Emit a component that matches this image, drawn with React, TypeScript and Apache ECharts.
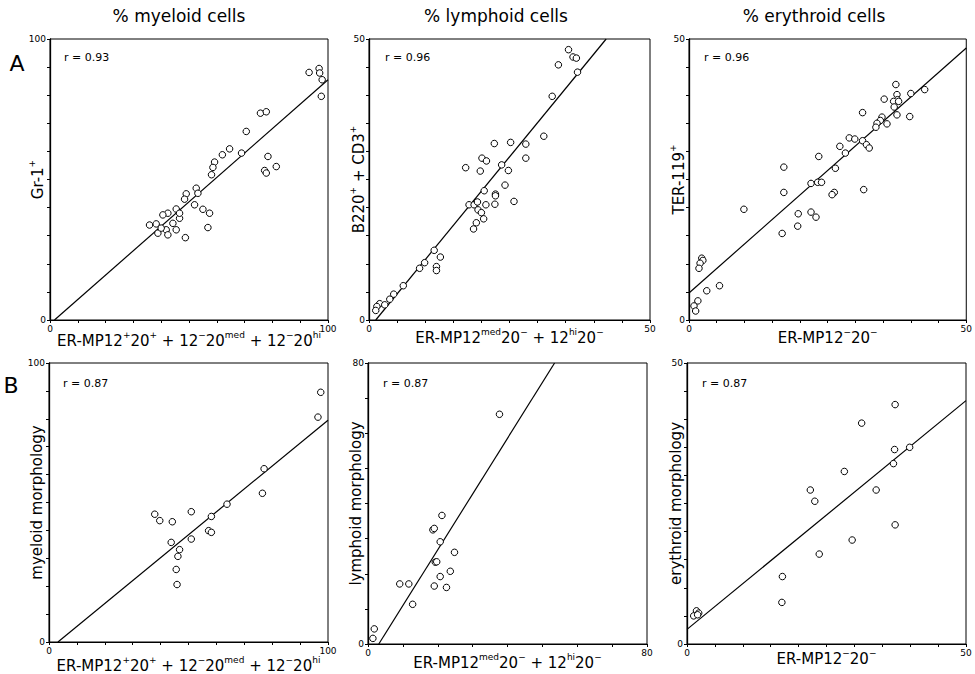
import React, { useEffect, useRef } from "react";
import * as echarts from "echarts";

type Pt = [number, number];

const FONT = "DejaVu Sans";

const panelTitles = ["% myeloid cells", "% lymphoid cells", "% erythroid cells"];
const rowLetters = ["A", "B"];
const rValues = ["r = 0.93", "r = 0.96", "r = 0.96", "r = 0.87", "r = 0.87", "r = 0.87"];
const axisMax = [100, 50, 50, 100, 80, 50];
const tickStep = [10, 5, 5, 10, 10, 5];

const xNames = [
  "{n|ER-MP12}{s|+}{n|20}{s|+}{n| + 12}{s|−}{n|20}{s|med}{n| + 12}{s|−}{n|20}{s|hi}",
  "{n|ER-MP12}{s|med}{n|20}{s|−}{n| + 12}{s|hi}{n|20}{s|−}",
  "{n|ER-MP12}{s|−}{n|20}{s|−}",
  "{n|ER-MP12}{s|+}{n|20}{s|+}{n| + 12}{s|−}{n|20}{s|med}{n| + 12}{s|−}{n|20}{s|hi}",
  "{n|ER-MP12}{s|med}{n|20}{s|−}{n| + 12}{s|hi}{n|20}{s|−}",
  "{n|ER-MP12}{s|−}{n|20}{s|−}",
];
const yNames = [
  "{n|Gr-1}{s|+}",
  "{n|B220}{s|+}{n| + CD3}{s|+}",
  "{n|TER-119}{s|+}",
  "{n|myeloid morphology}",
  "{n|lymphoid morphology}",
  "{n|erythroid morphology}",
];

// Panel A: FACS-sorted fraction vs marker
const myeloidFacs: Pt[] = [
  [93.2, 88.1], [96.8, 89.5], [97.0, 87.9], [97.9, 85.5], [97.6, 79.6],
  [75.7, 73.6], [77.8, 74.1], [70.6, 67.1], [64.6, 60.9], [62.0, 58.8],
  [59.2, 56.2], [58.6, 54.3], [58.1, 51.7], [68.9, 59.4], [78.4, 58.2],
  [77.2, 53.2], [77.8, 52.3], [81.4, 54.6], [49.0, 44.9], [48.4, 43.0],
  [52.6, 46.9], [53.2, 45.1], [52.0, 41.0], [55.0, 39.4], [57.4, 38.0],
  [56.8, 32.9], [48.7, 29.3], [46.6, 36.2], [45.4, 39.5], [42.4, 38.0],
  [40.6, 37.4], [44.2, 34.4], [41.8, 32.1], [42.4, 30.3], [38.8, 30.9],
  [35.8, 33.8], [38.2, 34.2], [40.0, 32.7], [45.4, 32.1], [46.6, 38.0],
];
const lymphoidFacs: Pt[] = [
  [35.5, 48.1], [36.3, 46.8], [36.9, 46.6], [33.7, 45.4], [37.1, 44.1],
  [32.6, 39.8], [31.1, 32.7], [27.9, 31.3], [27.9, 28.8], [25.2, 31.6],
  [22.3, 31.4], [20.1, 28.8], [20.9, 28.3], [23.6, 27.6], [24.8, 26.6],
  [17.2, 27.1], [19.8, 26.5], [24.2, 24.0], [20.5, 23.0], [22.5, 22.4],
  [22.5, 22.1], [22.4, 20.6], [25.8, 21.1], [17.8, 20.5], [18.7, 20.5],
  [19.3, 21.0], [19.4, 19.6], [20.0, 19.1], [20.8, 20.5], [20.4, 18.0],
  [19.1, 17.3], [18.6, 16.2], [11.6, 12.4], [12.7, 11.2], [9.9, 10.2],
  [9.0, 9.2], [12.0, 9.5], [12.0, 8.8], [6.1, 6.1], [4.4, 4.6],
  [3.7, 3.7], [1.9, 2.9], [1.4, 2.4], [1.2, 1.7], [2.8, 2.7],
];
const erythroidFacs: Pt[] = [
  [37.3, 41.9], [37.5, 40.1], [37.6, 39.2], [40.0, 40.3], [42.5, 41.0],
  [35.2, 39.3], [36.9, 38.9], [37.8, 38.9], [37.0, 37.9], [37.5, 36.5],
  [39.8, 36.2], [31.3, 36.9], [34.8, 36.1], [34.5, 35.5], [35.7, 34.9],
  [33.9, 35.0], [33.7, 34.3], [28.9, 32.4], [29.9, 32.2], [31.3, 31.9],
  [32.0, 31.2], [32.5, 30.6], [27.2, 30.9], [28.2, 29.7], [23.4, 29.1],
  [26.4, 27.0], [17.1, 27.2], [22.0, 24.3], [23.2, 24.5], [23.9, 24.5],
  [31.5, 23.2], [26.2, 22.7], [25.8, 22.3], [17.1, 22.7], [9.9, 19.7],
  [19.7, 18.9], [22.0, 19.2], [22.9, 18.3], [19.6, 16.7], [16.8, 15.4],
  [2.3, 11.0], [2.5, 10.6], [2.0, 10.1], [1.8, 9.2], [5.5, 6.1],
  [3.2, 5.2], [1.6, 3.4], [0.9, 2.5], [1.2, 1.6],
];

// Panel B: FACS-sorted fraction vs morphology
const myeloidMorph: Pt[] = [
  [97.4, 89.5], [96.4, 80.6], [77.1, 62.1], [76.5, 53.3], [63.8, 49.4],
  [58.2, 45.0], [57.2, 39.9], [58.2, 39.3], [51.0, 46.7], [51.0, 36.9],
  [37.9, 45.8], [39.7, 43.5], [44.2, 43.1], [43.8, 35.7], [46.8, 33.1],
  [46.2, 30.7], [45.6, 26.0], [45.9, 20.6],
];
const lymphoidMorph: Pt[] = [
  [37.7, 65.4], [21.2, 36.6], [18.6, 32.5], [19.0, 32.9], [20.7, 29.1],
  [24.8, 26.1], [19.3, 23.3], [19.7, 23.4], [23.6, 20.7], [20.7, 19.2],
  [19.0, 16.5], [22.5, 16.1], [9.1, 17.1], [11.7, 17.1], [12.8, 11.3],
  [1.8, 4.3], [1.4, 1.6],
];
const erythroidMorph: Pt[] = [
  [37.3, 42.6], [31.3, 39.3], [37.2, 34.6], [39.9, 35.0], [37.0, 32.1],
  [28.2, 30.7], [22.1, 27.4], [22.9, 25.4], [33.9, 27.4], [37.3, 21.2],
  [29.6, 18.5], [23.7, 16.0], [17.1, 12.0], [17.0, 7.4], [1.7, 5.9],
  [2.1, 5.5], [1.2, 5.0], [1.9, 5.2],
];

// regression line end points (data units)
const myeloidFacsFit: Pt[] = [[1.6, 0], [100, 85.5]];
const lymphoidFacsFit: Pt[] = [[1.2, 0], [42.2, 50]];
const erythroidFacsFit: Pt[] = [[0, 4.8], [50, 48.4]];
const myeloidMorphFit: Pt[] = [[3.2, 0], [100, 79.5]];
const lymphoidMorphFit: Pt[] = [[3.1, 0], [53.5, 80]];
const erythroidMorphFit: Pt[] = [[0, 2.6], [50, 43.3]];

const points = [myeloidFacs, lymphoidFacs, erythroidFacs, myeloidMorph, lymphoidMorph, erythroidMorph];
const fits = [myeloidFacsFit, lymphoidFacsFit, erythroidFacsFit, myeloidMorphFit, lymphoidMorphFit, erythroidMorphFit];

// layout (pixels)
const grids = [
  { left: 50, top: 39, width: 278, height: 281 },
  { left: 369, top: 39, width: 281, height: 281 },
  { left: 689, top: 39, width: 279, height: 281 },
  { left: 49, top: 363, width: 279, height: 280 },
  { left: 368, top: 363, width: 279, height: 281 },
  { left: 687, top: 363, width: 279, height: 281 },
];
const xNameGap = [10, 7, 7, 13, 8, 4];
const yNameGap = [5, 3, 3, 5, 5, 4];
const titlePos = [[179, 16], [496, 16], [814, 16]];
const letterPos = [[17, 63], [11, 385]];
const rPos = [[64, 57], [385, 57], [704, 57], [63, 383], [383, 383], [702, 383]];

const rich = {
  n: { fontSize: 15, fontFamily: FONT, color: "#000", lineHeight: 18, verticalAlign: "bottom" },
  s: { fontSize: 9, fontFamily: FONT, color: "#000", lineHeight: 10, verticalAlign: "top" },
};

export default function App() {
  const ref = useRef<HTMLDivElement>(null);
  useEffect(() => {
    if (!ref.current) return;
    const chart = echarts.init(ref.current, undefined, { renderer: "svg" });
    const xAxis = grids.map((_, i) => ({
      gridIndex: i,
      type: "value",
      min: 0,
      max: axisMax[i],
      interval: tickStep[i],
      splitLine: { show: false },
      axisLine: { show: true, onZero: false, lineStyle: { color: "#000", width: 1 } },
      axisTick: { show: true, inside: false, length: 3, lineStyle: { color: "#000" } },
      axisLabel: {
        fontSize: 9,
        fontFamily: FONT,
        color: "#000",
        margin: 4,
        formatter: (v: number) => (v === 0 || v === axisMax[i] ? String(v) : ""),
      },
      name: xNames[i],
      nameLocation: "middle",
      nameGap: xNameGap[i],
      nameMoveOverlap: false,
      nameTextStyle: { rich },
    }));
    const yAxis = grids.map((_, i) => ({
      gridIndex: i,
      type: "value",
      min: 0,
      max: axisMax[i],
      interval: tickStep[i],
      splitLine: { show: false },
      axisLine: { show: true, onZero: false, lineStyle: { color: "#000", width: 1.3 } },
      axisTick: { show: true, inside: false, length: 3, lineStyle: { color: "#000" } },
      axisLabel: {
        fontSize: 9,
        fontFamily: FONT,
        color: "#000",
        margin: 4,
        formatter: (v: number) => (v === 0 || v === axisMax[i] ? String(v) : ""),
      },
      name: yNames[i],
      nameLocation: "middle",
      nameGap: yNameGap[i],
      nameMoveOverlap: false,
      nameTextStyle: { rich },
    }));
    const series: any[] = [];
    points.forEach((pts, i) => {
      series.push({
        type: "line",
        xAxisIndex: i,
        yAxisIndex: i,
        data: fits[i],
        showSymbol: false,
        symbol: "none",
        lineStyle: { color: "#000", width: 1.2 },
        z: 2,
        silent: true,
      });
      series.push({
        type: "scatter",
        xAxisIndex: i,
        yAxisIndex: i,
        data: pts,
        symbol: "circle",
        symbolSize: 6.5,
        itemStyle: { color: "#fff", borderColor: "#000", borderWidth: 1, opacity: 1 },
        z: 3,
      });
    });
    const graphic: any[] = [];
    panelTitles.forEach((t, i) =>
      graphic.push({
        type: "text",
        x: titlePos[i][0],
        y: titlePos[i][1],
        style: { text: t, fontSize: 17, fontFamily: FONT, fill: "#000", align: "center", verticalAlign: "middle" },
      })
    );
    rowLetters.forEach((t, i) =>
      graphic.push({
        type: "text",
        x: letterPos[i][0],
        y: letterPos[i][1],
        style: { text: t, fontSize: 22, fontFamily: FONT, fill: "#000", align: "center", verticalAlign: "middle" },
      })
    );
    rValues.forEach((t, i) =>
      graphic.push({
        type: "text",
        x: rPos[i][0],
        y: rPos[i][1],
        style: { text: t, fontSize: 11, fontFamily: FONT, fill: "#000", align: "left", verticalAlign: "middle" },
      })
    );
    chart.setOption({
      animation: false,
      backgroundColor: "#fff",
      grid: grids.map((g) => ({ ...g, show: true, borderColor: "#000", borderWidth: 1, backgroundColor: "transparent" })),
      xAxis,
      yAxis,
      series,
      graphic,
    });
    return () => chart.dispose();
  }, []);
  return (
    <div
      ref={ref}
      style={{ position: "fixed", left: 0, top: 0, width: 975, height: 674, background: "#fff" }}
    />
  );
}
